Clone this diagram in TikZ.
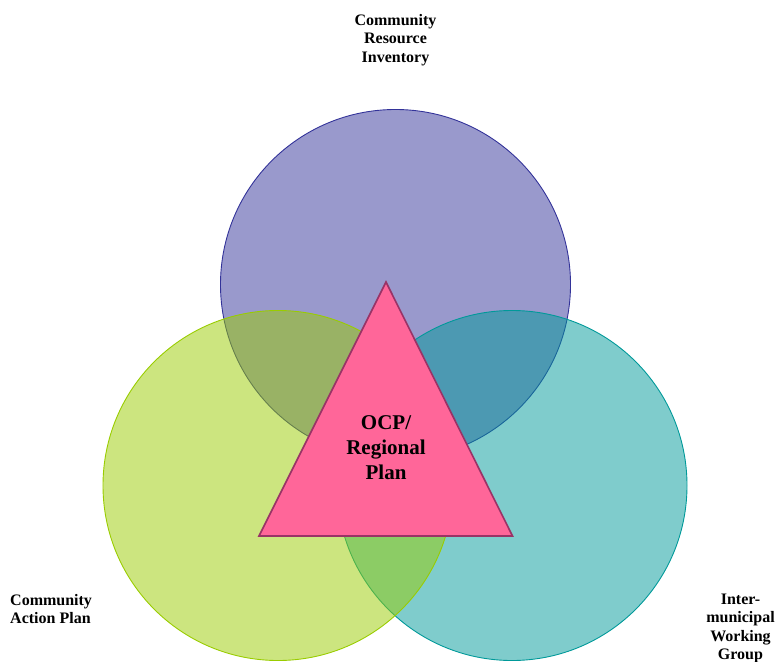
\documentclass[tikz,border=0pt]{standalone}
\usepackage{fontspec}
\setmainfont{Liberation Serif}
\definecolor{purpbase}{HTML}{333399}
\definecolor{greenbase}{HTML}{99CC00}
\definecolor{tealbase}{HTML}{009999}
\definecolor{pinkfill}{HTML}{FF6699}
\definecolor{pinkline}{HTML}{993366}
\tikzset{
  venn/.style={circle, minimum size=350bp, inner sep=0pt, line width=0.9bp},
  lbl/.style={inner sep=0pt, font=\fontsize{16bp}{18.4bp}\selectfont\bfseries},
  biglbl/.style={inner sep=0pt, align=center, font=\fontsize{21bp}{25bp}\selectfont\bfseries}
}
\begin{document}
\begin{tikzpicture}[x=1bp,y=-1bp]
\useasboundingbox (0,0) rectangle (777,662);
\node[venn, draw=purpbase, fill=purpbase, fill opacity=0.5] (top) at (395.5,284.5) {};
\node[venn, draw=tealbase, fill=tealbase, fill opacity=0.5] (right) at (512,485.5) {};
\node[venn, draw=greenbase, fill=greenbase, fill opacity=0.5] (left) at (278,485.5) {};
\coordinate (apex) at (386,282);
\coordinate (bl) at (259,536);
\coordinate (br) at (512.5,536);
\draw[pinkline, fill=pinkfill, line width=1.6bp, line join=miter] (apex) -- (bl) -- (br) -- cycle;
\node[biglbl] (ocp) at (386,447.5) {OCP/\\Regional\\Plan};
\node[lbl, align=center] (cri) at (395.5,40) {Community\\Resource\\Inventory};
\node[lbl, align=left, anchor=west] (cap) at (10,609) {Community\\Action Plan};
\node[lbl, align=center] (iwg) at (740.5,628.5) {Inter-\\municipal\\Working\\Group};
\end{tikzpicture}
\end{document}
